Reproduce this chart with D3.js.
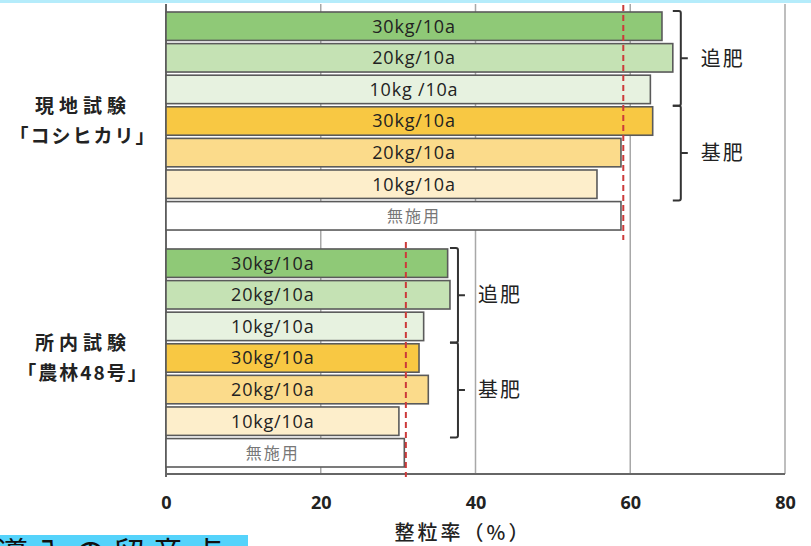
<!DOCTYPE html>
<html><head><meta charset="utf-8">
<script src="https://cdn.jsdelivr.net/npm/d3@7"></script>
<style>
html,body{margin:0;padding:0;background:#fff;overflow:hidden;}
svg{display:block;}
</style></head>
<body>
<svg id="chart" width="811" height="546"></svg>
<script>
// ---- data ----
const groupIds = ["genchi", "shonai"];
const groupLine1 = ["現地試験", "所内試験"];
const groupLine2 = ["「コシヒカリ」", "「農林48号」"];
const treatments = ["追肥30", "追肥20", "追肥10", "基肥30", "基肥20", "基肥10", "無施用"];
const barLabels1 = ["30kg/10a", "20kg/10a", "10kg /10a", "30kg/10a", "20kg/10a", "10kg/10a", "無施用"];
const barLabels2 = ["30kg/10a", "20kg/10a", "10kg/10a", "30kg/10a", "20kg/10a", "10kg/10a", "無施用"];
const values1 = [64.1, 65.5, 62.6, 62.9, 58.8, 55.7, 58.8];
const values2 = [36.4, 36.7, 33.3, 32.7, 33.9, 30.1, 30.8];
const referenceValues = [59.1, 31.0];
const bracketNames = ["追肥", "基肥"];
const xTicks = [0, 20, 40, 60, 80];
const xTitle = "整粒率（%）";
const footerText = "導入の留意点";

// ---- style ----
const colors = ["#8fc977", "#c5e2b4", "#e7f2e0", "#f8c843", "#fbdb8b", "#fdeecb", "#ffffff"];
const svg = d3.select("#chart");

const x = d3.scaleLinear().domain([0, 80]).range([166, 785]);
const yGroup = d3.scaleBand().domain(groupIds).range([12, 467]).paddingInner(0.08);
const yRow = d3.scaleBand().domain(treatments).range([0, yGroup.bandwidth()]).paddingInner(0.1);

const plotTop = 4, plotBottom = 474;

// top cyan strip
svg.append("rect").attr("x", 0).attr("y", 0).attr("width", 811).attr("height", 3).attr("fill", "#b5ecfb");

// gridlines
svg.append("g").selectAll("line").data(xTicks.filter(d => d > 0)).join("line")
  .attr("x1", d => x(d)).attr("x2", d => x(d))
  .attr("y1", plotTop).attr("y2", plotBottom)
  .attr("stroke", "#a8a8a8").attr("stroke-width", 1.5);

// axes lines
svg.append("line").attr("x1", x(0)).attr("x2", x(0)).attr("y1", plotTop).attr("y2", plotBottom + 3)
  .attr("stroke", "#666").attr("stroke-width", 2);
svg.append("line").attr("x1", x(0)).attr("x2", x(80)).attr("y1", plotBottom).attr("y2", plotBottom)
  .attr("stroke", "#666").attr("stroke-width", 2);

// x axis tick labels via d3 axis
const xAxis = d3.axisBottom(x).tickValues(xTicks).tickSize(0).tickPadding(0);
const ax = svg.append("g").attr("transform", `translate(0,${plotBottom + 22})`).call(xAxis);
ax.select(".domain").remove();
ax.selectAll("text")
  .attr("font-family", "'Open Sans', 'Noto Sans', sans-serif")
  .attr("font-weight", "bold").attr("font-size", 18).attr("fill", "#222").attr("dy", "0.7em");

svg.append("text").attr("x", 463).attr("y", 540).attr("text-anchor", "middle")
  .attr("font-family", "'Noto Sans CJK JP', sans-serif").attr("font-weight", 500)
  .attr("font-size", 20).attr("letter-spacing", 3).attr("fill", "#222").text(xTitle);

const groupData = [
  {id: groupIds[0], values: values1, labels: barLabels1, ref: referenceValues[0], line1: groupLine1[0], line2: groupLine2[0], labelCenter: 32.05},
  {id: groupIds[1], values: values2, labels: barLabels2, ref: referenceValues[1], line1: groupLine1[1], line2: groupLine2[1], labelCenter: 13.8}
];

groupData.forEach(g => {
  const gy = yGroup(g.id);
  const gEl = svg.append("g").attr("transform", `translate(0,${gy})`);
  const rows = treatments.map((t, i) => ({t, v: g.values[i], label: g.labels[i], color: colors[i], i}));

  gEl.selectAll("rect.bar").data(rows).join("rect").attr("class", "bar")
    .attr("x", x(0)).attr("y", d => yRow(d.t))
    .attr("width", d => x(d.v) - x(0)).attr("height", yRow.bandwidth())
    .attr("fill", d => d.color).attr("stroke", "#5a5a5a").attr("stroke-width", 1.6);

  gEl.selectAll("text.bl").data(rows).join("text").attr("class", "bl")
    .attr("x", x(g.labelCenter)).attr("y", d => yRow(d.t) + yRow.bandwidth() / 2)
    .attr("dy", "0.36em").attr("text-anchor", "middle")
    .attr("font-family", d => d.i === 6 ? "'Noto Sans CJK JP', sans-serif" : "'Open Sans', sans-serif")
    .attr("font-size", d => d.i === 6 ? 16 : 18)
    .attr("letter-spacing", d => d.i === 6 ? 2 : 0.8)
    .attr("fill", d => d.i === 6 ? "#777" : "#222")
    .text(d => d.label);

  // reference dashed line
  gEl.append("line").attr("x1", x(g.ref)).attr("x2", x(g.ref))
    .attr("y1", -7).attr("y2", yGroup.bandwidth() + 10)
    .attr("stroke", "#cc3a3a").attr("stroke-width", 2).attr("stroke-dasharray", "6,4");

  // brackets
  const bx = x(d3.max(g.values)) + 8;
  [[0, 2], [3, 5]].forEach((rg, k) => {
    const y0 = yRow(treatments[rg[0]]) - 1;
    const y1 = yRow(treatments[rg[1]]) + yRow.bandwidth() + 2;
    const ym = (y0 + y1) / 2;
    gEl.append("path")
      .attr("d", `M${bx - 8},${y0} H${bx - 2} Q${bx},${y0} ${bx},${y0 + 2} V${y1 - 2} Q${bx},${y1} ${bx - 2},${y1} H${bx - 8} M${bx},${ym} H${bx + 7}`)
      .attr("fill", "none").attr("stroke", "#333").attr("stroke-width", 2);
    gEl.append("text").attr("x", bx + 20).attr("y", ym).attr("dy", "0.36em")
      .attr("font-family", "'Noto Sans CJK JP', sans-serif").attr("font-size", 20)
      .attr("letter-spacing", 2).attr("fill", "#222").text(bracketNames[k]);
  });

  // group labels
  const gc = yGroup.bandwidth() / 2;
  gEl.append("text").attr("x", 83).attr("y", gc - 15).attr("dy", "0.36em").attr("text-anchor", "middle")
    .attr("font-family", "'Noto Sans CJK JP', sans-serif").attr("font-weight", "bold")
    .attr("font-size", 19).attr("letter-spacing", 5).attr("fill", "#222").text(g.line1);
  gEl.append("text").attr("x", 83).attr("y", gc + 15).attr("dy", "0.36em").attr("text-anchor", "middle")
    .attr("font-family", "'Noto Sans CJK JP', sans-serif").attr("font-weight", "bold")
    .attr("font-size", 19).attr("letter-spacing", 2).attr("fill", "#222").text(g.line2);
});

// footer cyan box (clipped)
svg.append("rect").attr("x", 0).attr("y", 535).attr("width", 248).attr("height", 20).attr("fill", "#55d3fb");
svg.append("text").attr("x", -4).attr("y", 565)
  .attr("font-family", "'Noto Sans CJK JP', sans-serif").attr("font-size", 32).attr("letter-spacing", 7)
  .attr("fill", "#111").text(footerText);
</script>
</body></html>
